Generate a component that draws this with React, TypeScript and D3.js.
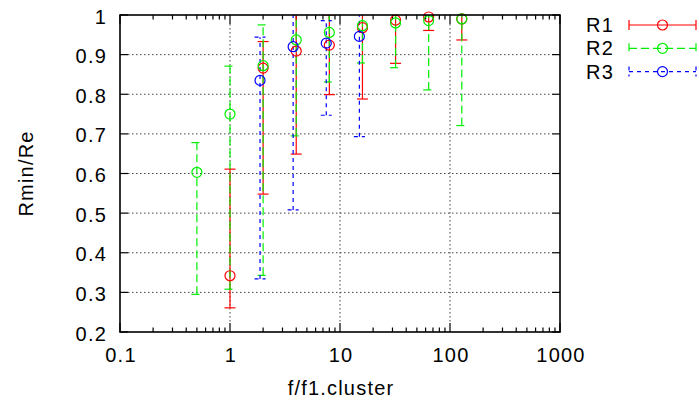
import React from "react";
import * as d3 from "d3";

const W = 699;
const H = 404;

// R1 (red, solid)
const r1X = [1, 2, 4, 8, 16, 32, 64, 128];
const r1Y = [0.342, 0.866, 0.909, 0.924, 0.968, 0.987, 0.995, 0.99];
const r1Lo = [0.261, 0.548, 0.649, 0.799, 0.788, 0.878, 0.961, 0.937];
const r1Hi = [0.611, 0.933, 1.05, 1.0, 1.05, 1.05, 1.05, 1.05];

// R2 (green, dashed)
const r2X = [0.5, 1, 2, 4, 8, 16, 32, 64, 128];
const r2Y = [0.603, 0.75, 0.872, 0.937, 0.956, 0.973, 0.98, 0.986, 0.99];
const r2Lo = [0.295, 0.308, 0.343, 0.695, 0.831, 0.879, 0.867, 0.811, 0.721];
const r2Hi = [0.678, 0.871, 0.975, 1.05, 1.05, 1.05, 1.05, 1.05, 1.05];

// R3 (blue, short dashes)
const r3X = [1.875, 3.75, 7.5, 15];
const r3Y = [0.835, 0.92, 0.929, 0.946];
const r3Lo = [0.334, 0.508, 0.747, 0.693];
const r3Hi = [0.944, 1.05, 0.986, 1.05];

const xTicks = [0.1, 1, 10, 100, 1000];
const xTickLabels = ["0.1", "1", "10", "100", "1000"];
const yTicks = [0.2, 0.3, 0.4, 0.5, 0.6, 0.7, 0.8, 0.9, 1];
const yTickLabels = ["0.2", "0.3", "0.4", "0.5", "0.6", "0.7", "0.8", "0.9", "1"];

const seriesNames = ["R1", "R2", "R3"];

const L = 120, R = 560, T = 15, B = 332;
const FONT = "'Liberation Sans', Arial, sans-serif";
const FS = 20;
const LS = 1.2;

export default function App() {
  const x = d3.scaleLog().domain([0.1, 1000]).range([L, R]);
  const y = d3.scaleLinear().domain([0.2, 1]).range([B, T]);

  const series = [
    { name: seriesNames[0], xs: r1X, ys: r1Y, lo: r1Lo, hi: r1Hi, color: "#ff0000", dash: "none" },
    { name: seriesNames[1], xs: r2X, ys: r2Y, lo: r2Lo, hi: r2Hi, color: "#00ee00", dash: "8,4" },
    { name: seriesNames[2], xs: r3X, ys: r3Y, lo: r3Lo, hi: r3Hi, color: "#0000ff", dash: "4,4" },
  ];

  const minor: number[] = [];
  for (let e = -1; e < 3; e++) {
    for (let k = 2; k <= 9; k++) minor.push(k * Math.pow(10, e));
  }

  const capW = 5.5;
  const r = 5;

  return (
    <svg width={W} height={H} style={{ position: "absolute", left: 0, top: 0, background: "#fff" }}>
      <defs>
        <clipPath id="plotclip">
          <rect x={L} y={T} width={R - L} height={B - T} />
        </clipPath>
      </defs>
      <rect x={0} y={0} width={W} height={H} fill="#fff" />

      {/* grid */}
      {yTicks.slice(1, -1).map((v) => (
        <line key={"gy" + v} x1={L + 8} x2={R - 8} y1={y(v)} y2={y(v)} stroke="#444" strokeWidth={1} strokeDasharray="1.5,2.5" />
      ))}
      {xTicks.slice(1, -1).map((v) => (
        <line key={"gx" + v} x1={x(v)} x2={x(v)} y1={T + 9} y2={B - 9} stroke="#444" strokeWidth={1} strokeDasharray="1.5,2.5" />
      ))}

      {/* ticks */}
      {yTicks.map((v) => (
        <g key={"ty" + v}>
          <line x1={L} x2={L + 8} y1={y(v)} y2={y(v)} stroke="#000" strokeWidth={1.2} />
          <line x1={R} x2={R - 8} y1={y(v)} y2={y(v)} stroke="#000" strokeWidth={1.2} />
        </g>
      ))}
      {xTicks.map((v) => (
        <g key={"tx" + v}>
          <line x1={x(v)} x2={x(v)} y1={B} y2={B - 9} stroke="#000" strokeWidth={1.2} />
          <line x1={x(v)} x2={x(v)} y1={T} y2={T + 9} stroke="#000" strokeWidth={1.2} />
        </g>
      ))}
      {minor.map((v) => (
        <g key={"mx" + v}>
          <line x1={x(v)} x2={x(v)} y1={B} y2={B - 4.5} stroke="#000" strokeWidth={1.2} />
          <line x1={x(v)} x2={x(v)} y1={T} y2={T + 4.5} stroke="#000" strokeWidth={1.2} />
        </g>
      ))}

      {/* tick labels */}
      {yTicks.map((v, i) => (
        <text key={"ly" + v} x={L - 13} y={y(v) + 8.5} textAnchor="end" fontFamily={FONT} fontSize={FS} letterSpacing={LS} fill="#000">
          {yTickLabels[i]}
        </text>
      ))}
      {xTicks.map((v, i) => (
        <text key={"lx" + v} x={x(v) + 1} y={361.5} textAnchor="middle" fontFamily={FONT} fontSize={FS} letterSpacing={LS} fill="#000">
          {xTickLabels[i]}
        </text>
      ))}

      {/* axis titles */}
      <text x={(L + R) / 2 + 1} y={395} textAnchor="middle" fontFamily={FONT} fontSize={FS} letterSpacing={LS} fill="#000">
        f/f1.cluster
      </text>
      <text transform={`translate(33,${(T + B) / 2}) rotate(-90)`} textAnchor="middle" fontFamily={FONT} fontSize={FS} letterSpacing={LS} fill="#000">
        Rmin/Re
      </text>

      {/* error bars */}
      <g clipPath="url(#plotclip)">
        {series.map((s) =>
          s.xs.map((xv, i) => {
            const px = x(xv);
            const yl = y(s.lo[i]);
            const yh = y(s.hi[i]);
            return (
              <g key={s.name + "e" + i} stroke={s.color} strokeWidth={1.2} fill="none">
                <line x1={px} x2={px} y1={yl} y2={yh} strokeDasharray={s.dash} />
                <line x1={px - capW} x2={px + capW} y1={yl} y2={yl} strokeDasharray={s.dash} />
                <line x1={px - capW} x2={px + capW} y1={yh} y2={yh} strokeDasharray={s.dash} />
              </g>
            );
          })
        )}
      </g>
      {/* points */}
      {series.map((s) =>
        s.xs.map((xv, i) => (
          <circle key={s.name + "p" + i} cx={x(xv)} cy={y(s.ys[i])} r={r} fill="none" stroke={s.color} strokeWidth={1.2} />
        ))
      )}

      {/* border */}
      <rect x={L} y={T} width={R - L} height={B - T} fill="none" stroke="#000" strokeWidth={1.6} />

      {/* legend */}
      {series.map((s, i) => {
        const ly = 25 + i * 23.3;
        return (
          <g key={"leg" + s.name}>
            <text x={614} y={ly + 7} textAnchor="end" fontFamily={FONT} fontSize={FS} letterSpacing={LS} fill="#000">
              {s.name}
            </text>
            <line x1={629} x2={696} y1={ly} y2={ly} stroke={s.color} strokeWidth={1.2} strokeDasharray={s.dash} />
            <line x1={629} x2={629} y1={ly - 5} y2={ly + 5} stroke={s.color} strokeWidth={1.2} strokeDasharray={s.dash} />
            <line x1={696} x2={696} y1={ly - 5} y2={ly + 5} stroke={s.color} strokeWidth={1.2} strokeDasharray={s.dash} />
            <circle cx={662.5} cy={ly} r={r} fill="none" stroke={s.color} strokeWidth={1.2} />
          </g>
        );
      })}
    </svg>
  );
}
